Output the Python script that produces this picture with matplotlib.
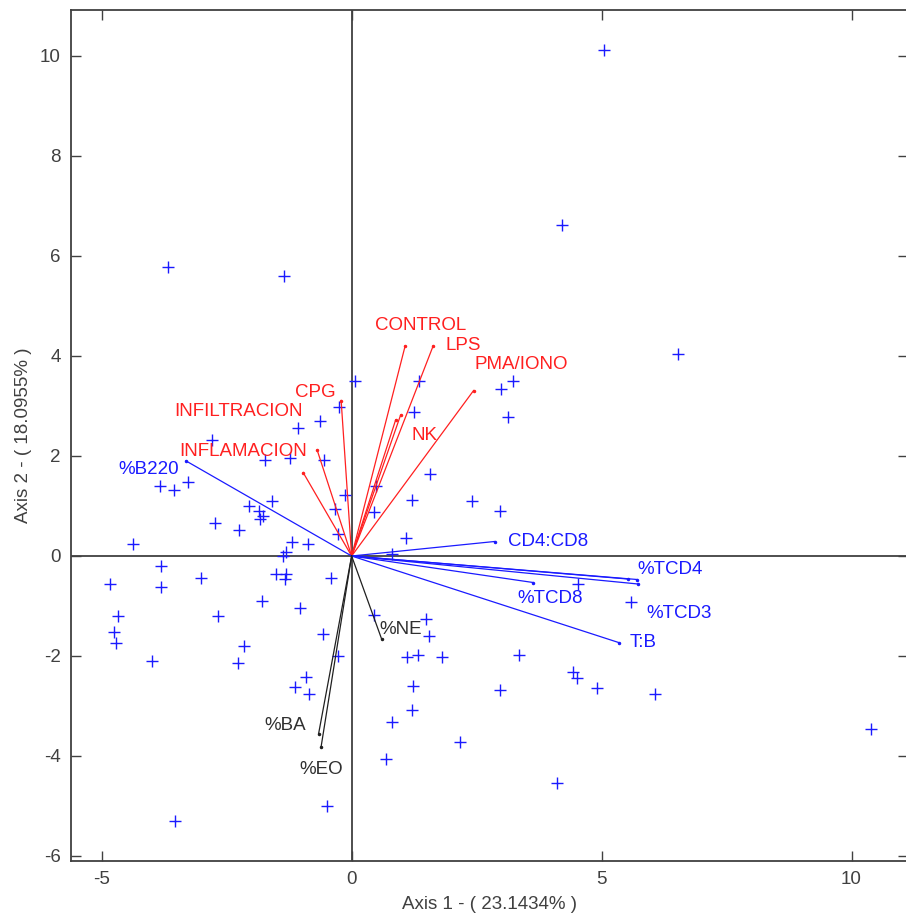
import numpy as np
import matplotlib
matplotlib.use("Agg")
import matplotlib.pyplot as plt

plt.rcParams['font.family'] = ['Liberation Sans', 'DejaVu Sans']
plt.rcParams['axes.unicode_minus'] = False

# scores (observations)
pts_x = [5.05, 4.21, 6.52, -3.68, -1.35, 10.38, -3.54, -0.49, 4.11, 0.07,
         -0.26, -0.64, -1.07, -2.79, -1.74, -1.23, -0.55, -3.84, -3.56, -3.27,
         -2.05, -1.60, -1.85, -1.78, -1.84, -0.13, -0.33, -0.28, -2.73, -2.25,
         -4.38, -1.19, -0.87, -1.32, -1.38, -3.82, -3.02, -3.82, -4.83, -1.52,
         -1.32, -1.33, -0.41, 0.48, 0.44, 1.35, 1.25, 2.99, 3.22, 3.12,
         1.56, 1.20, 2.41, 2.97, 1.08, 0.80, -1.80, -1.03, -2.68, -4.68,
         -4.75, -4.71, -2.16, -2.28, -3.99, -0.58, -0.27, -0.92, -1.14, -0.85,
         0.80, 0.69, 0.44, 1.10, 1.33, 1.23, 1.20, 4.53, 5.59, 1.48,
         1.54, 1.80, 3.35, 2.97, 4.43, 4.50, 4.91, 6.06, 2.16]
pts_y = [10.12, 6.63, 4.05, 5.79, 5.61, -3.45, -5.30, -5.00, -4.54, 3.50,
         2.98, 2.71, 2.57, 2.33, 1.92, 1.96, 1.92, 1.40, 1.32, 1.48,
         1.00, 1.10, 0.90, 0.80, 0.74, 1.22, 0.95, 0.44, 0.66, 0.52,
         0.25, 0.29, 0.25, 0.08, 0.00, -0.19, -0.44, -0.62, -0.56, -0.36,
         -0.35, -0.46, -0.44, 1.41, 0.89, 3.50, 2.89, 3.35, 3.51, 2.78,
         1.64, 1.12, 1.10, 0.90, 0.37, 0.04, -0.89, -1.04, -1.19, -1.19,
         -1.51, -1.74, -1.80, -2.13, -2.09, -1.56, -1.99, -2.42, -2.62, -2.75,
         -3.32, -4.05, -1.18, -2.02, -1.98, -2.59, -3.07, -0.55, -0.91, -1.26,
         -1.60, -2.02, -1.98, -2.67, -2.31, -2.44, -2.63, -2.75, -3.72]

# loadings, grouped by colour
red_names = ["CONTROL", "LPS", "PMA/IONO", "NK", "", "CPG", "INFILTRACION", "INFLAMACION"]
red_x = [1.07, 1.63, 2.44, 0.98, 0.88, -0.21, -0.69, -0.97]
red_y = [4.20, 4.20, 3.31, 2.82, 2.72, 3.11, 2.12, 1.67]

blue_names = ["%B220", "CD4:CD8", "%TCD4", "", "%TCD3", "%TCD8", "T:B"]
blue_x = [-3.31, 2.86, 5.71, 5.52, 5.73, 3.63, 5.34]
blue_y = [1.90, 0.29, -0.47, -0.46, -0.56, -0.53, -1.73]

black_names = ["%NE", "%BA", "%EO"]
black_x = [0.60, -0.66, -0.61]
black_y = [-1.66, -3.55, -3.81]

# label offsets from the tips, in pixels (dx right, dy up)
red_off = [(-30, 20), (12, 0), (1, 26), (11, -21), (0, 0), (-46, 8), (-143, 38), (-124, 21)]
blue_off = [(-68, -8), (13, 0), (0, 10), (0, 0), (8, -29), (-16, -16), (11, 0)]
black_off = [(-2, 10), (-54, 8), (-22, -23)]

RED = "#ff2020"
BLUE = "#1a1aff"
GREY = "#404040"

fig = plt.figure(figsize=(9.06, 9.17), dpi=100)
# right edge of the box falls just outside the image, as in the original
ax = fig.add_axes([70.7 / 906, 56 / 917, (908 - 70.7) / 906, (861 - 10) / 917])

ax.axhline(0, color=GREY, lw=1.3, zorder=1)
ax.axvline(0, color=GREY, lw=1.3, zorder=1)

ax.plot(pts_x, pts_y, '+', color=BLUE, ms=8, mew=1.0, zorder=3)


def draw_vectors(names, xs, ys, offs, col, lab_col):
    for name, vx, vy, (dx, dy) in zip(names, xs, ys, offs):
        ax.plot([0, vx], [0, vy], '-', color=col, lw=0.9, zorder=4)
        ax.plot(vx, vy, '.', color=col, ms=3, zorder=4)
        if name:
            ax.annotate(name, (vx, vy), xytext=(dx * 0.72, dy * 0.72),
                        textcoords='offset points', ha='left', va='center',
                        color=lab_col, fontsize=13.5)


draw_vectors(red_names, red_x, red_y, red_off, RED, RED)
draw_vectors(blue_names, blue_x, blue_y, blue_off, BLUE, BLUE)
draw_vectors(black_names, black_x, black_y, black_off, "#202020", "#303030")

ax.set_xlim(-5.62, 11.13)
ax.set_ylim(-6.1, 10.92)
ax.set_xticks([-5, 0, 5, 10])
ax.set_yticks([-6, -4, -2, 0, 2, 4, 6, 8, 10])
ax.tick_params(direction='in', length=7, width=1, colors=GREY, labelsize=13.5,
               top=True, right=True, pad=7)
for s in ax.spines.values():
    s.set_color(GREY)
    s.set_linewidth(1.3)

ax.set_xlabel("Axis 1 - ( 23.1434% )", fontsize=13.5, color=GREY, labelpad=6)
ax.set_ylabel("Axis 2 - ( 18.0955% )", fontsize=13.5, color=GREY, labelpad=6)

fig.savefig("out.png", dpi=100)
